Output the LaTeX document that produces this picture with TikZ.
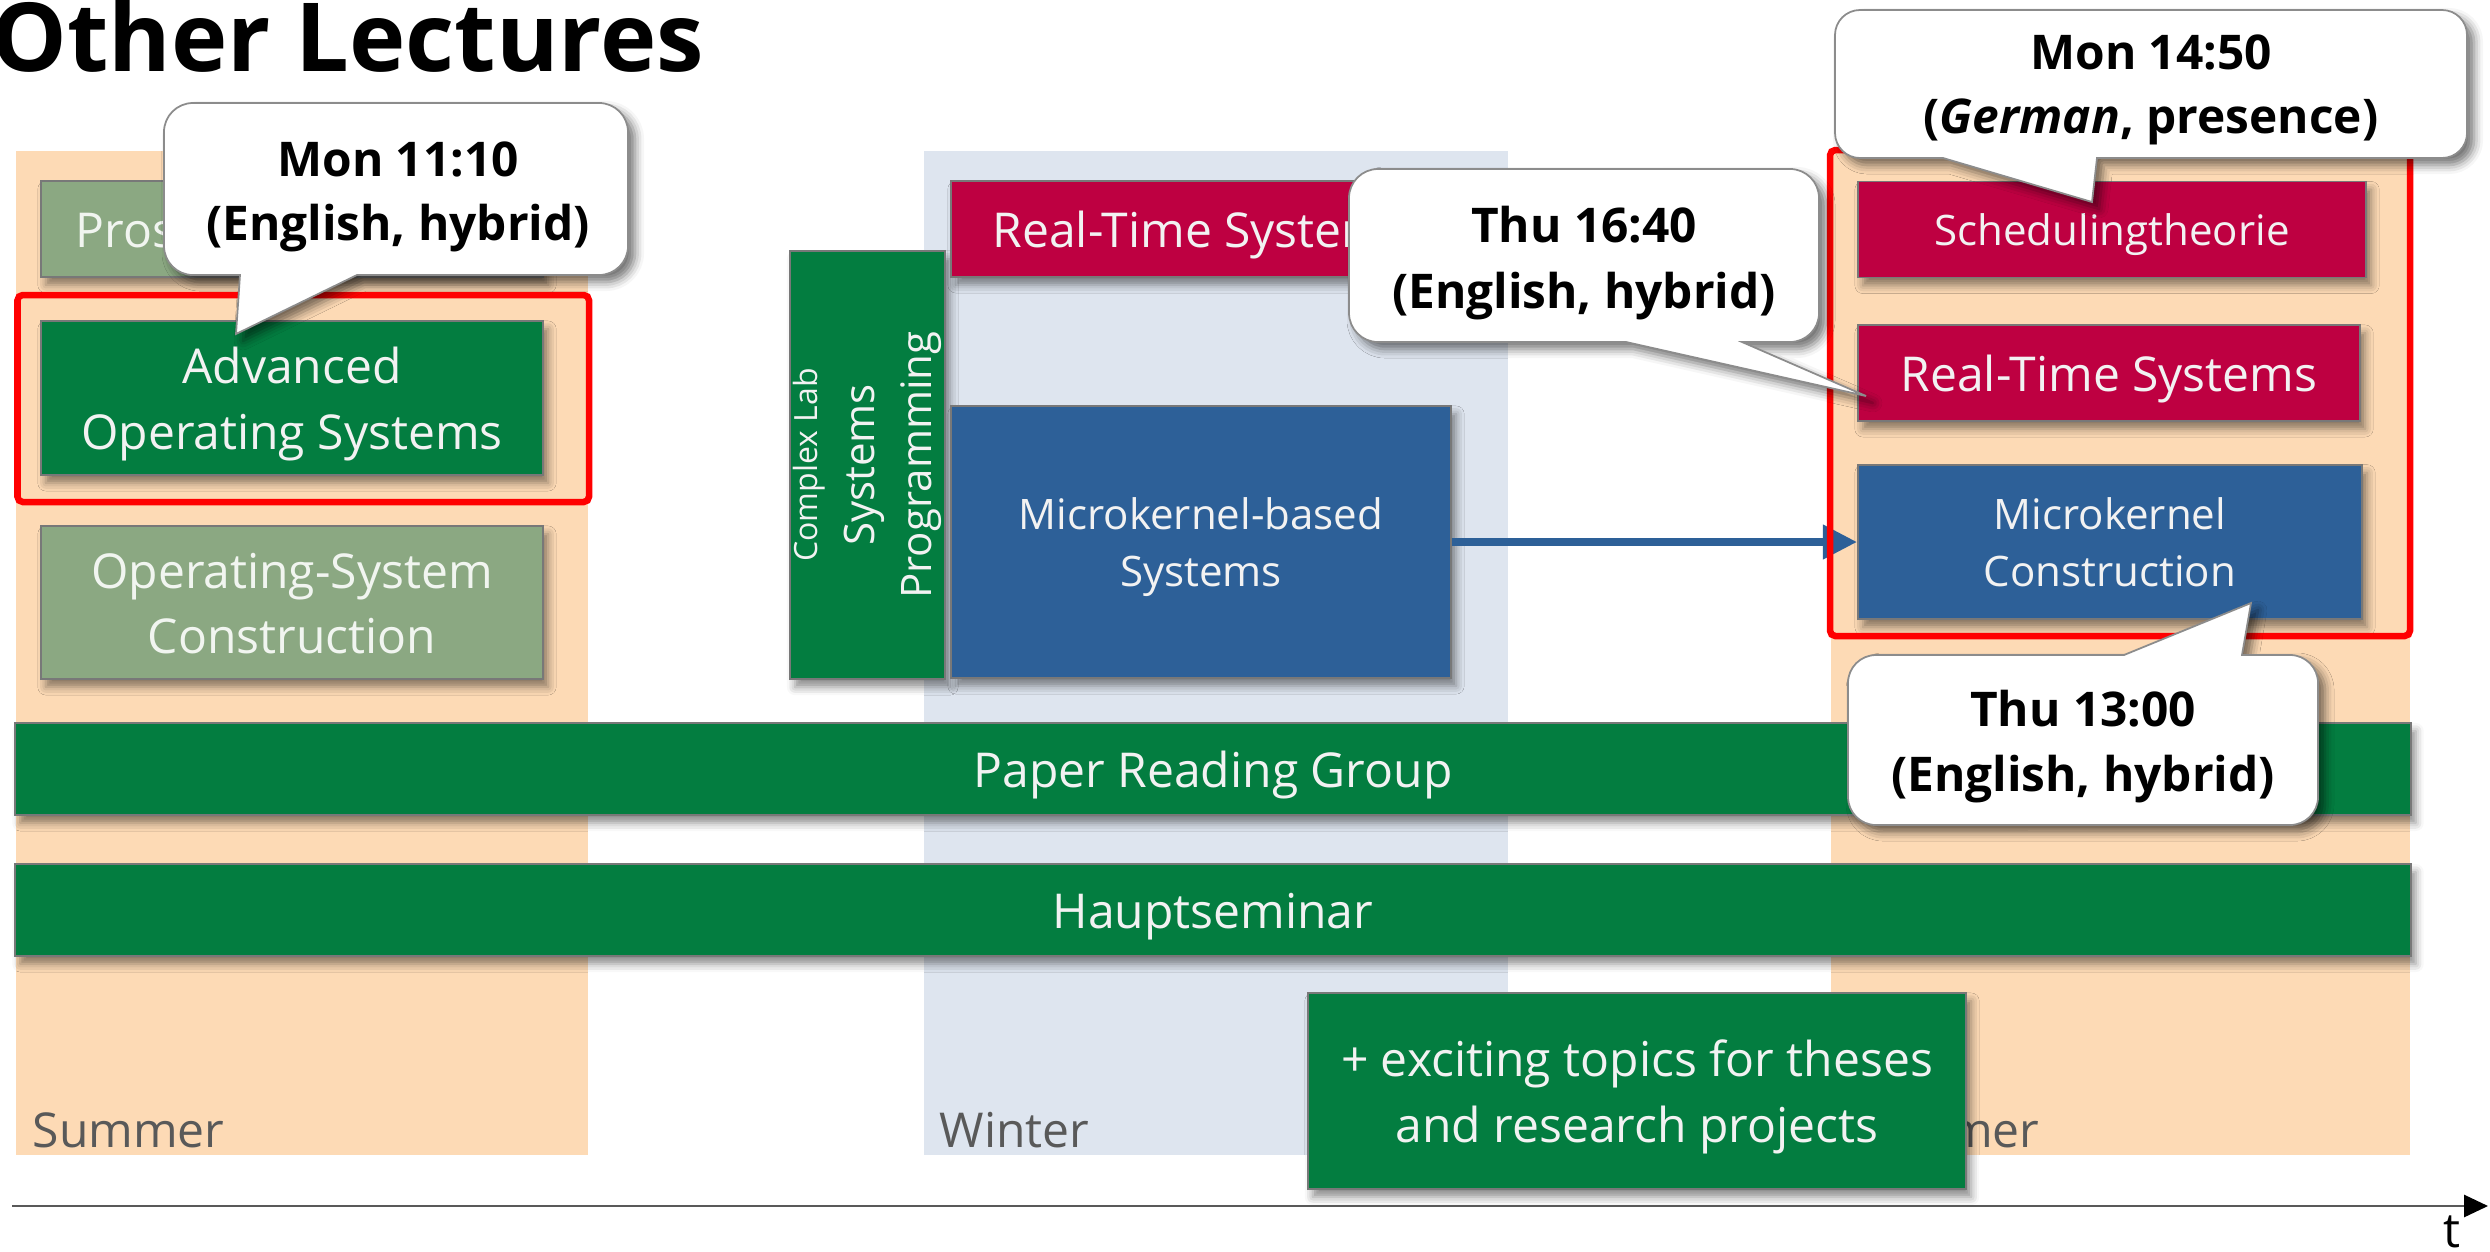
\documentclass[tikz,border=0pt]{standalone}
\usepackage{fontspec}
\setmainfont{Open Sans}
\usetikzlibrary{arrows.meta,shadows.blur}

\definecolor{lecgreen}{RGB}{3,125,64}
\definecolor{lecred}{RGB}{190,0,65}
\definecolor{lecblue}{RGB}{45,96,152}
\definecolor{lecfaded}{RGB}{139,168,130}
\definecolor{summerbg}{RGB}{253,218,181}
\definecolor{winterbg}{RGB}{222,229,239}
\definecolor{seasongray}{RGB}{89,89,89}
\definecolor{boxedge}{RGB}{120,120,120}
\definecolor{boxtext}{RGB}{242,242,242}

\newcommand\lecfont{\fontsize{13.66}{18.5}\selectfont}
\newcommand\lecsmall{\fontsize{11.95}{16.3}\selectfont}
\newcommand\lectiny{\fontsize{9.1}{12.4}\selectfont}
\newcommand\bubblefont{\fontsize{13.6}{18.3}\selectfont\bfseries}
\newcommand\headfont{\fontsize{27.1}{32}\selectfont\bfseries}
% invisible strut giving a text line the full line height of the font
\newcommand\lecstrut{\rule[-0.29em]{0pt}{1.35em}}

\tikzset{
  box/.style={draw=boxedge, line width=0.5pt, text=boxtext, align=center,
    inner sep=0pt, font=\lecfont,
    execute at begin node=\lecstrut, execute at end node=\lecstrut,
    blur shadow={shadow xshift=0.05cm, shadow yshift=-0.08cm,
      shadow blur radius=0.08cm, shadow opacity=45}},
  greenbox/.style={box, fill=lecgreen},
  redbox/.style={box, fill=lecred},
  bluebox/.style={box, fill=lecblue, font=\lecsmall},
  fadedbox/.style={box, fill=lecfaded, text=white!88!lecfaded},
  season/.style={text=seasongray, font=\lecfont, inner sep=0pt, anchor=base west},
  redframe/.style={draw=red, line width=1.85pt, rounded corners=1.5pt},
  bubble/.style={fill=white, draw=black!45, line width=0.5pt,
    blur shadow={shadow xshift=0.07cm, shadow yshift=-0.07cm,
      shadow blur radius=0.09cm, shadow opacity=55}},
  bubbletext/.style={font=\bubblefont, inner sep=0pt, anchor=base},
  flowarrow/.style={draw=lecblue, line width=2.1pt,
    -{Triangle[length=9.7pt,width=9.4pt]}},
  timeaxis/.style={draw=black!65, line width=0.6pt,
    -{Triangle[length=6.8pt,width=6.3pt,color=black]}}
}

\begin{document}
\begin{tikzpicture}[x=0.01cm, y=-0.01cm]
\useasboundingbox (0,0) rectangle (2490,1251);

% semester bands
\fill[summerbg] (16,151) rectangle (588,1155);
\fill[winterbg] (924,151) rectangle (1508,1155);
\fill[summerbg] (1831,151) rectangle (2410,1155);
\node[season] (sumA) at (32,1147) {Summer};
\node[season] (win) at (939,1147) {Winter};
\node[season] (sumB) at (1847,1147) {Summer};

% courses
\node[fadedbox, minimum width=5.02cm, minimum height=0.96cm] (prosem) at (292,229) {};
\node[anchor=base west, text=white!88!lecfaded, font=\lecfont, inner sep=0pt] (prosemtext) at (75,247) {Proseminar};
\node[greenbox, minimum width=5.02cm, minimum height=1.54cm] (aos) at (292,398) {\lecstrut Advanced\\Operating Systems};
\node[fadedbox, minimum width=5.02cm, minimum height=1.53cm] (osc) at (292,602.5) {\lecstrut Operating-System\\Construction};

\node[greenbox, minimum width=1.55cm, minimum height=4.28cm] (lab) at (867.5,465) {};
\node[rotate=90, align=center, text=boxtext, font=\lecsmall, inner sep=0pt] (labtext) at (lab.center)
  {{\lectiny Complex Lab}\\Systems\\Programming};
\node[redbox, minimum width=5cm, minimum height=0.96cm] (rtsw) at (1201,229) {Real-Time Systems};
\node[bluebox, minimum width=5cm, minimum height=2.72cm] (mkb) at (1201,542) {\lecstrut Microkernel-based\\Systems};

\node[redbox, font=\lecsmall, minimum width=5.08cm, minimum height=0.96cm] (sched) at (2112,229.5) {Schedulingtheorie};
\node[redbox, minimum width=5.02cm, minimum height=0.96cm] (rtss) at (2109,373) {Real-Time Systems};
\node[bluebox, minimum width=5.04cm, minimum height=1.545cm] (mkc) at (2110,542) {\lecstrut Microkernel\\Construction};

\node[greenbox, minimum width=23.94cm, minimum height=0.92cm] (prg) at (1213,769) {Paper Reading Group};
\node[greenbox, minimum width=23.94cm, minimum height=0.92cm] (hs) at (1213,910) {Hauptseminar};
\node[greenbox, minimum width=6.58cm, minimum height=1.96cm] (topics) at (1637,1091) {\lecstrut + exciting topics for theses\\and research projects};

% follow-up course
\draw[flowarrow] (mkb.east) -- (mkc.west);

% highlighted courses
\draw[redframe] (17.5,295) rectangle (589,502);
\draw[redframe] (1830,150) rectangle (2410,636);

% time axis
\coordinate (axstart) at (12,1206);
\coordinate (axend) at (2488,1206);
\draw[timeaxis] (axstart) -- (axend);
\node[font=\lecfont, inner sep=0pt, anchor=base] (tlabel) at (2452,1247) {t};

% schedule callouts
\path[bubble] (240,275) -- (236,334) -- (357,275) -- (599,275)
  arc[start angle=270, end angle=360, radius=0.29cm] -- (628,132)
  arc[start angle=0, end angle=90, radius=0.29cm] -- (193,103)
  arc[start angle=90, end angle=180, radius=0.29cm] -- (164,246)
  arc[start angle=180, end angle=270, radius=0.29cm] -- cycle;
\node[bubbletext] (aosday) at (398,176) {Mon 11:10};
\node[bubbletext] (aosmode) at (398,240) {(English, hybrid)};

\path[bubble] (1626,342) -- (1866,396) -- (1742,342) -- (1790,342)
  arc[start angle=270, end angle=360, radius=0.29cm] -- (1819,198)
  arc[start angle=0, end angle=90, radius=0.29cm] -- (1378,169)
  arc[start angle=90, end angle=180, radius=0.29cm] -- (1349,313)
  arc[start angle=180, end angle=270, radius=0.29cm] -- cycle;
\node[bubbletext] (rtsday) at (1584,242) {Thu 16:40};
\node[bubbletext] (rtsmode) at (1584,308) {(English, hybrid)};

\path[bubble] (1943,158) -- (2092,202) -- (2097,158) -- (2442,158)
  arc[start angle=270, end angle=360, radius=0.25cm] -- (2467,35)
  arc[start angle=0, end angle=90, radius=0.25cm] -- (1860,10)
  arc[start angle=90, end angle=180, radius=0.25cm] -- (1835,133)
  arc[start angle=180, end angle=270, radius=0.25cm] -- cycle;
\node[bubbletext] (schedday) at (2151,69) {Mon 14:50};
\node[bubbletext] (schedmode) at (2151,133) {(\textit{German}, presence)};

\path[bubble] (2242,655) -- (2251,603) -- (2124,655) -- (1876,655)
  arc[start angle=90, end angle=180, radius=0.28cm] -- (1848,797)
  arc[start angle=180, end angle=270, radius=0.28cm] -- (2290,825)
  arc[start angle=270, end angle=360, radius=0.28cm] -- (2318,683)
  arc[start angle=0, end angle=90, radius=0.28cm] -- cycle;
\node[bubbletext] (mkcday) at (2083,726) {Thu 13:00};
\node[bubbletext] (mkcmode) at (2083,791) {(English, hybrid)};

% heading
\node[font=\headfont, anchor=base west, inner sep=0pt] (title) at (-9,71) {Other Lectures};
\end{tikzpicture}
\end{document}
